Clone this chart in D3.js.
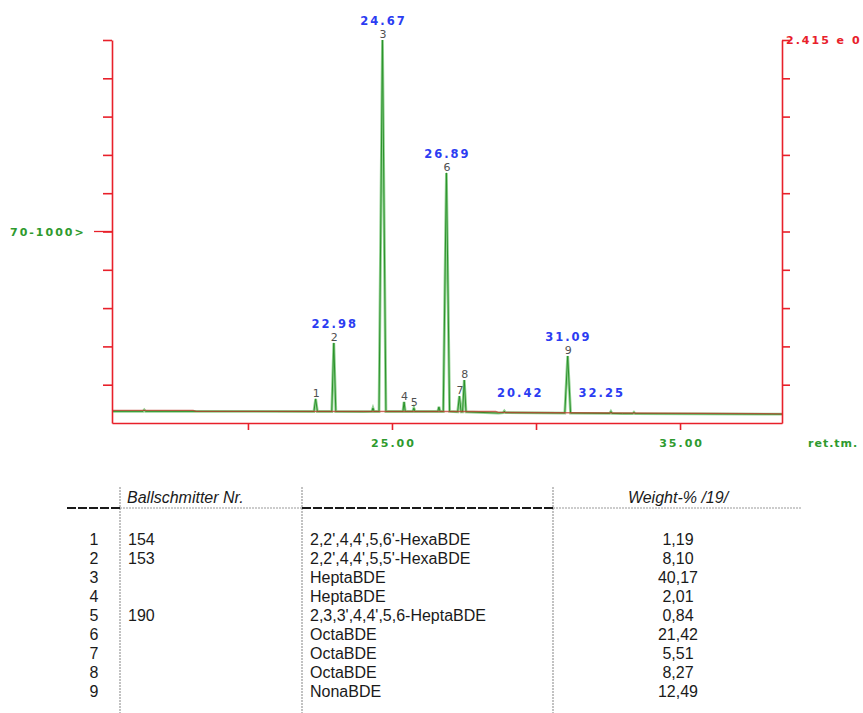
<!DOCTYPE html>
<html>
<head>
    <meta charset="utf-8">
    <title>PBDE chromatogram</title>
    <script src="https://cdnjs.cloudflare.com/ajax/libs/d3/7.8.5/d3.min.js"></script>
    <style>
        body { margin: 0; background: white; }
        svg { display: block; }
        .lab { font-family: 'DejaVu Sans', sans-serif; font-weight: bold; letter-spacing: 2px; }
        .tbl { font-family: 'Liberation Sans', Arial, sans-serif; font-size: 16px; fill: #1a1a1a; }
    </style>
</head>
<body>
    <div id="chart"></div>
    <script>
        // peaks (retention time in min, height in % of full scale)
        const peakNo     = [1, 2, 3, 4, 5, 6, 7, 8, 9];
        const peakRt     = [22.35, 22.98, 24.67, 25.42, 25.76, 26.89, 27.34, 27.51, 31.10];
        const peakHeight = [6.3, 20.9, 100, 5.5, 3.9, 65.3, 7.0, 11.2, 17.5];
        const peakWidth  = [0.06, 0.07, 0.12, 0.04, 0.04, 0.11, 0.06, 0.06, 0.10];
        const peakFoot   = [3.0, 3.0, 3.0, 3.0, 3.0, 3.0, 2.9, 2.9, 2.6];

        // small unlabelled bumps
        const minorRt     = [16.4, 24.34, 26.63, 28.9, 32.6, 33.4];
        const minorHeight = [3.4, 3.9, 4.2, 3.1, 3.0, 2.8];
        const minorFoot   = [3.05, 3.0, 3.0, 2.7, 2.5, 2.45];

        // green baseline and red integration baseline [rt, level]
        const greenBase = [[15.28, 3.05], [24.0, 2.95], [28.7, 2.6], [33.0, 2.45], [38.54, 2.3]];
        const redBase   = [[15.28, 3.3], [18.1, 3.3], [18.2, 3.05], [28.6, 3.0], [28.7, 2.75], [38.54, 2.4]];

        // blue retention-time labels
        const rtLabelText   = ['22.98', '24.67', '26.89', '20.42', '31.09', '32.25'];
        const rtLabelPos    = [22.98, 24.67, 26.89, 29.42, 31.09, 32.25];
        const rtLabelHeight = [20.9, 100, 65.3, 3.0, 17.5, 3.0];

        const xTicks = [20, 25, 30, 35];
        const xTickLabelled = [25, 35];
        const yTicks = [10, 20, 30, 40, 50, 60, 70, 80, 90, 100];

        // table
        const rowNo     = ['1', '2', '3', '4', '5', '6', '7', '8', '9'];
        const bzNo      = ['154', '153', '', '', '190', '', '', '', ''];
        const congener  = ["2,2',4,4',5,6'-HexaBDE", "2,2',4,4',5,5'-HexaBDE", 'HeptaBDE', 'HeptaBDE',
                           "2,3,3',4,4',5,6-HeptaBDE", 'OctaBDE', 'OctaBDE', 'OctaBDE', 'NonaBDE'];
        const weightPct = [1.19, 8.10, 40.17, 2.01, 0.84, 21.42, 5.51, 8.27, 12.49];

        const RED = '#e8202a', GREEN = '#2e9a2e', BLUE = '#2b3cf2';

        const svg = d3.select('#chart').append('svg')
            .attr('width', 863)
            .attr('height', 713);

        const x = d3.scaleLinear().domain([15.28, 38.54]).range([112, 782]);
        const y = d3.scaleLinear().domain([0, 100]).range([423, 40]);

        // build trace points
        let pts = greenBase.map(d => ({rt: d[0], v: d[1]}));
        peakRt.forEach((rt, i) => {
            pts.push({rt: rt - peakWidth[i], v: peakFoot[i]});
            pts.push({rt: rt, v: peakHeight[i]});
            pts.push({rt: rt + peakWidth[i], v: peakFoot[i]});
        });
        minorRt.forEach((rt, i) => {
            pts.push({rt: rt - 0.04, v: minorFoot[i]});
            pts.push({rt: rt, v: minorHeight[i]});
            pts.push({rt: rt + 0.04, v: minorFoot[i]});
        });
        pts.sort((a, b) => a.rt - b.rt);

        const line = d3.line().x(d => x(d.rt)).y(d => y(d.v));

        svg.append('path')
            .attr('d', line(pts))
            .attr('fill', 'none')
            .attr('stroke', '#93d193')
            .attr('stroke-width', 2.8);
        svg.append('path')
            .attr('d', line(pts))
            .attr('fill', 'none')
            .attr('stroke', '#2a922a')
            .attr('stroke-width', 1);

        svg.append('path')
            .attr('d', line(redBase.map(d => ({rt: d[0], v: d[1]}))))
            .attr('fill', 'none')
            .attr('stroke', '#c0392b')
            .attr('stroke-opacity', 0.75)
            .attr('stroke-width', 1.3);

        // axes
        const styleAxis = g => {
            g.selectAll('path, line').attr('stroke', RED).attr('stroke-width', 1.6);
        };

        svg.append('g')
            .attr('transform', 'translate(112,0)')
            .call(d3.axisLeft(y).tickValues(yTicks).tickSize(9).tickSizeOuter(0).tickFormat(''))
            .call(styleAxis);

        svg.append('g')
            .attr('transform', 'translate(782,0)')
            .call(d3.axisRight(y).tickValues(yTicks).tickSize(8).tickSizeOuter(0).tickFormat(''))
            .call(styleAxis);

        const xAxis = svg.append('g')
            .attr('transform', 'translate(0,423)')
            .call(d3.axisBottom(x).tickValues(xTicks).tickSize(7).tickSizeOuter(0)
                .tickFormat(d => xTickLabelled.includes(d) ? d.toFixed(2) : ''))
            .call(styleAxis);
        xAxis.selectAll('text')
            .attr('class', 'lab')
            .attr('y', 16)
            .attr('dx', '1px')
            .style('font-size', '11px')
            .attr('fill', GREEN);

        // mass range marker on the left axis
        svg.append('line')
            .attr('x1', 94).attr('x2', 112)
            .attr('y1', y(50)).attr('y2', y(50))
            .attr('stroke', RED).attr('stroke-width', 1.3);
        svg.append('text')
            .attr('class', 'lab')
            .attr('x', 10).attr('y', y(50) + 4)
            .style('font-size', '11px')
            .attr('fill', GREEN)
            .text('70-1000>');

        // full-scale value, clipped at the right edge as in the original
        svg.append('text')
            .attr('class', 'lab')
            .attr('x', 786).attr('y', 44)
            .style('font-size', '11px')
            .attr('fill', RED)
            .text('2.415 e 0');

        svg.append('text')
            .attr('class', 'lab')
            .attr('x', 808).attr('y', 447)
            .style('font-size', '11px')
            .style('letter-spacing', '1px')
            .attr('fill', GREEN)
            .text('ret.tm.');

        // peak numbers
        svg.selectAll('.pk')
            .data(peakNo)
            .join('text')
            .attr('class', 'pk')
            .attr('x', (d, i) => x(peakRt[i]) + 0.5)
            .attr('y', (d, i) => y(peakHeight[i]) - 2)
            .attr('text-anchor', 'middle')
            .style('font-family', "'DejaVu Sans', sans-serif")
            .style('font-size', '11px')
            .attr('fill', '#505050')
            .text(d => d);

        // retention-time labels
        svg.selectAll('.rtl')
            .data(rtLabelText)
            .join('text')
            .attr('class', 'rtl lab')
            .attr('x', (d, i) => x(rtLabelPos[i]) + 1)
            .attr('y', (d, i) => y(rtLabelHeight[i]) - 15)
            .attr('text-anchor', 'middle')
            .style('font-size', '11.5px')
            .attr('fill', BLUE)
            .text(d => d);

        // table
        const tbl = svg.append('g');
        const dotted = (x1, x2, y1, y2) => tbl.append('line')
            .attr('x1', x1).attr('x2', x2).attr('y1', y1).attr('y2', y2)
            .attr('stroke', '#9a9a9a').attr('stroke-width', 1.2)
            .attr('stroke-dasharray', '2,1');
        const heavy = (x1, x2, yy) => tbl.append('line')
            .attr('x1', x1).attr('x2', x2).attr('y1', yy).attr('y2', yy)
            .attr('stroke', '#1a1a1a').attr('stroke-width', 2)
            .attr('stroke-dasharray', '9,2');

        [120, 302, 553].forEach(cx => dotted(cx, cx, 487, 713));
        heavy(67, 120, 508);
        dotted(120, 302, 508, 508);
        heavy(302, 553, 508);
        dotted(553, 802, 508, 508);

        tbl.append('text')
            .attr('class', 'tbl')
            .attr('x', 127).attr('y', 503)
            .style('font-style', 'italic')
            .text('Ballschmitter Nr.');
        tbl.append('text')
            .attr('class', 'tbl')
            .attr('x', 678).attr('y', 503)
            .attr('text-anchor', 'middle')
            .style('font-style', 'italic')
            .text('Weight-% /19/');

        const rowY = i => 545 + i * 19;
        const fmt = d3.format('.2f');

        rowNo.forEach((r, i) => {
            tbl.append('text').attr('class', 'tbl')
                .attr('x', 94).attr('y', rowY(i)).attr('text-anchor', 'middle').text(r);
            tbl.append('text').attr('class', 'tbl')
                .attr('x', 128).attr('y', rowY(i)).text(bzNo[i]);
            tbl.append('text').attr('class', 'tbl')
                .attr('x', 310).attr('y', rowY(i)).text(congener[i]);
            tbl.append('text').attr('class', 'tbl')
                .attr('x', 678).attr('y', rowY(i)).attr('text-anchor', 'middle')
                .text(fmt(weightPct[i]).replace('.', ','));
        });
    </script>
</body>
</html>
